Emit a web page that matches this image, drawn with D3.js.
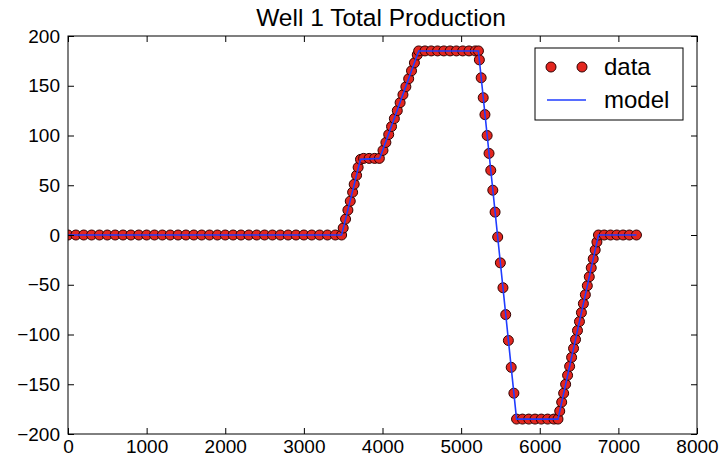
<!DOCTYPE html>
<html>
<head>
<meta charset="utf-8">
<script src="https://cdn.jsdelivr.net/npm/d3@7"></script>
<style>
  body { margin: 0; background: #fff; }
  svg { display: block; font-family: "Liberation Sans", Arial, sans-serif; }
</style>
</head>
<body>
<div id="chart"></div>
<script>
// measured points (x, total production)
const dataX = [
  0, 100, 200, 300, 400, 500, 600, 700, 800, 900, 1000, 1100, 1200, 1300, 1400, 1500, 1600, 1700,
  1800, 1900, 2000, 2100, 2200, 2300, 2400, 2500, 2600, 2700, 2800, 2900, 3000, 3100, 3200, 3300, 3400,
  3480, 3500, 3530, 3560, 3590, 3620, 3640, 3670, 3690, 3720,
  3760, 3830, 3900, 3960,
  4006, 4043, 4079, 4115, 4151, 4188, 4224, 4260, 4297, 4333, 4369, 4406, 4442, 4460,
  4540, 4620, 4700, 4780, 4860, 4940, 5020, 5100, 5180, 5220,
  5232, 5255, 5281, 5303, 5331, 5355, 5377, 5403, 5432, 5465, 5499, 5532, 5567, 5601, 5637, 5671, 5705,
  5780, 5860, 5940, 6020, 6100, 6180, 6232,
  6254, 6279, 6304, 6329, 6354, 6380, 6405, 6430, 6455, 6480, 6505, 6530, 6555, 6580, 6605, 6630,
  6655, 6680, 6705, 6727, 6747,
  6820, 6900, 6980, 7060, 7140, 7230
];
const dataY = [
  0, 0, 0, 0, 0, 0, 0, 0, 0, 0, 0, 0, 0, 0, 0, 0, 0, 0,
  0, 0, 0, 0, 0, 0, 0, 0, 0, 0, 0, 0, 0, 0, 0, 0, 0,
  0, 7, 16, 25, 34, 43, 51, 60, 68, 76,
  77, 77, 77, 77,
  85, 93, 101, 109, 117, 125, 133, 141, 149, 157, 165, 173, 181, 185,
  185, 185, 185, 185, 185, 185, 185, 185, 185, 185,
  176, 158, 138, 121, 100, 82, 65, 45, 23, -2, -28, -53, -80, -106, -133, -159, -185,
  -185, -185, -185, -185, -185, -185, -185,
  -177, -168, -159, -150, -141, -132, -123, -114, -105, -96, -87, -78, -69, -60, -51, -42,
  -33, -24, -15, -7, 0,
  0, 0, 0, 0, 0, 0
];
// fitted model breakpoints
const modelX = [0, 3480, 3720, 3965, 4460, 5220, 5705, 6232, 6747, 7230];
const modelY = [0, 0, 76, 77, 185, 185, -185, -185, 0, 0];

const xTicks = [0, 1000, 2000, 3000, 4000, 5000, 6000, 7000, 8000];
const yTicks = [-200, -150, -100, -50, 0, 50, 100, 150, 200];
const title = "Well 1 Total Production";
const legendLabels = ["data", "model"];

const width = 719, height = 463;
const plotLeft = 68, plotRight = 697, plotTop = 36, plotBottom = 434;
const dotFill = "#e3261f", dotEdge = "#300000", lineColor = "#1f3cff";
const dotR = 5;

const svg = d3.select("#chart").append("svg")
  .attr("width", width)
  .attr("height", height);

const x = d3.scaleLinear().domain([0, 8000]).range([plotLeft, plotRight]);
const y = d3.scaleLinear().domain([-200, 200]).range([plotBottom, plotTop]);

svg.append("defs").append("clipPath").attr("id", "plotclip")
  .append("rect")
    .attr("x", plotLeft).attr("y", plotTop)
    .attr("width", plotRight - plotLeft).attr("height", plotBottom - plotTop);

const points = dataX.map((d, i) => ({x: d, y: dataY[i]}));
const model = modelX.map((d, i) => ({x: d, y: modelY[i]}));

const plot = svg.append("g").attr("clip-path", "url(#plotclip)");

plot.selectAll("circle")
  .data(points)
  .enter().append("circle")
    .attr("cx", d => x(d.x))
    .attr("cy", d => y(d.y))
    .attr("r", dotR)
    .attr("fill", dotFill)
    .attr("stroke", dotEdge)
    .attr("stroke-width", 1);

plot.append("path")
  .datum(model)
  .attr("fill", "none")
  .attr("stroke", lineColor)
  .attr("stroke-width", 1.6)
  .attr("d", d3.line().x(d => x(d.x)).y(d => y(d.y)));

// inward ticks on all four sides
const tickLen = 6;
svg.append("g").attr("transform", "translate(0," + plotBottom + ")")
  .call(d3.axisTop(x).tickValues(xTicks).tickSize(tickLen).tickFormat(""));
svg.append("g").attr("transform", "translate(0," + plotTop + ")")
  .call(d3.axisBottom(x).tickValues(xTicks).tickSize(tickLen).tickFormat(""));
svg.append("g").attr("transform", "translate(" + plotLeft + ",0)")
  .call(d3.axisRight(y).tickValues(yTicks).tickSize(tickLen).tickFormat(""));
svg.append("g").attr("transform", "translate(" + plotRight + ",0)")
  .call(d3.axisLeft(y).tickValues(yTicks).tickSize(tickLen).tickFormat(""));

// tick labels
const fmt = d => d < 0 ? "\u2212" + Math.abs(d) : String(d);
const xLab = svg.append("g").attr("transform", "translate(0," + plotBottom + ")")
  .call(d3.axisBottom(x).tickValues(xTicks).tickSize(0).tickPadding(6).tickFormat(fmt));
const yLab = svg.append("g").attr("transform", "translate(" + plotLeft + ",0)")
  .call(d3.axisLeft(y).tickValues(yTicks).tickSize(0).tickPadding(8).tickFormat(fmt));
[xLab, yLab].forEach(g => {
  g.select(".domain").remove();
  g.selectAll("text").attr("font-size", 19).attr("fill", "#000")
    .attr("font-family", "Liberation Sans, Arial, sans-serif");
});

svg.selectAll(".tick line").attr("stroke", "#000");
svg.selectAll(".domain").attr("stroke", "none");

// frame
svg.append("rect")
  .attr("x", plotLeft).attr("y", plotTop)
  .attr("width", plotRight - plotLeft).attr("height", plotBottom - plotTop)
  .attr("fill", "none").attr("stroke", "#000").attr("stroke-width", 1);

svg.append("text")
  .attr("x", 381)
  .attr("y", 26)
  .attr("text-anchor", "middle")
  .attr("font-size", 24.5)
  .text(title);

// legend
const lg = svg.append("g");
lg.append("rect")
  .attr("x", 535).attr("y", 48).attr("width", 148).attr("height", 72)
  .attr("fill", "#fff").attr("stroke", "#000").attr("stroke-width", 1);
[551, 582].forEach(cx => {
  lg.append("circle").attr("cx", cx).attr("cy", 67).attr("r", dotR)
    .attr("fill", dotFill).attr("stroke", dotEdge).attr("stroke-width", 1);
});
lg.append("line").attr("x1", 547).attr("x2", 586).attr("y1", 100).attr("y2", 100)
  .attr("stroke", lineColor).attr("stroke-width", 1.6);
lg.selectAll("text.lab")
  .data(legendLabels)
  .enter().append("text")
    .attr("class", "lab")
    .attr("x", 604)
    .attr("y", (d, i) => 75 + i * 33)
    .attr("font-size", 24)
    .text(d => d);
</script>
</body>
</html>
